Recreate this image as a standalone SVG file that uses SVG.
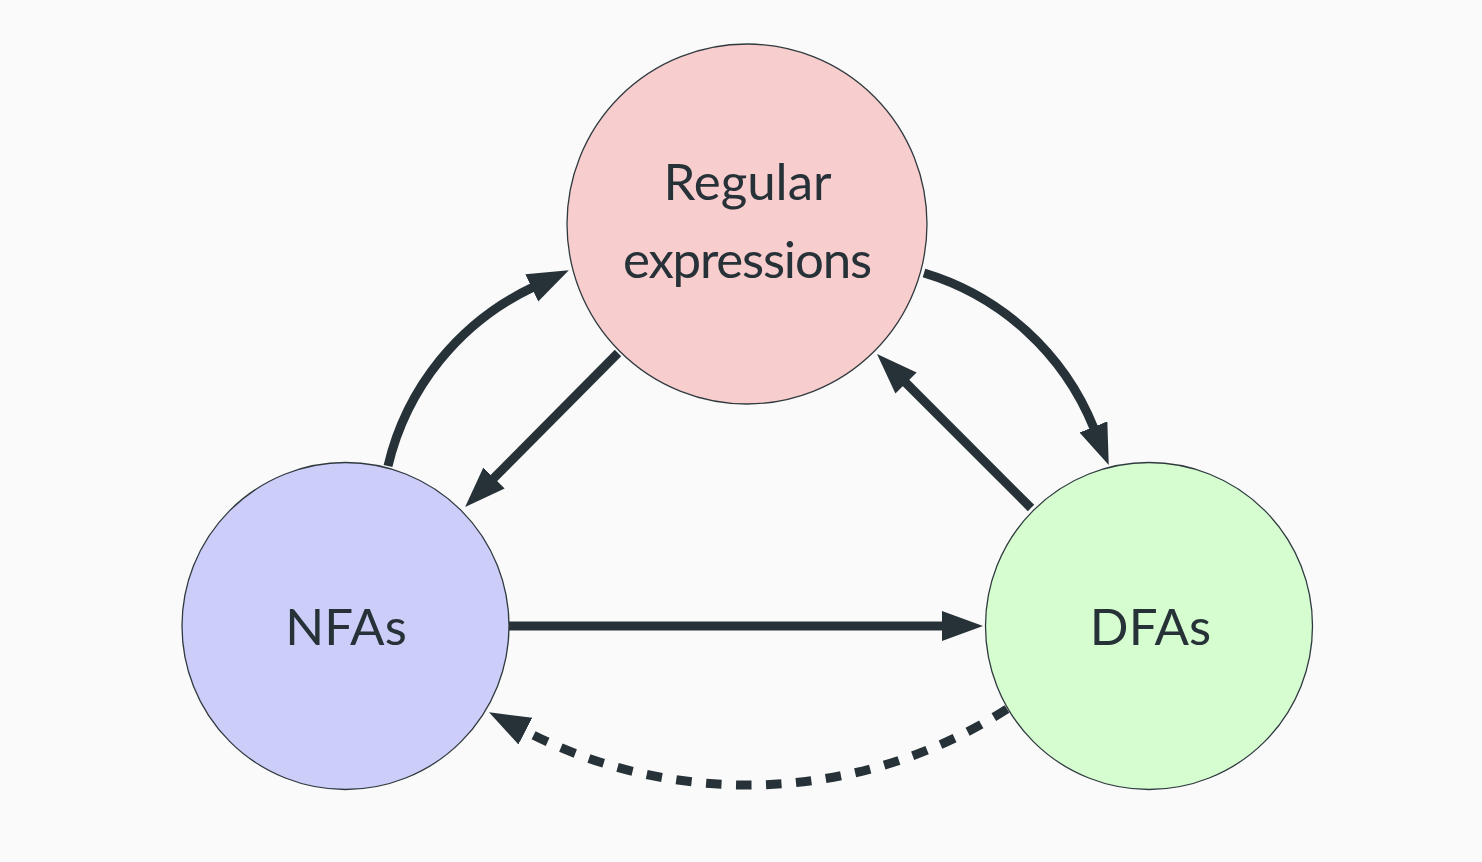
<svg xmlns="http://www.w3.org/2000/svg" width="1482" height="862" viewBox="0 0 1482 862">
  <style>
    .node { stroke: #2f3a3f; stroke-width: 1.3; }
    .label { font-family: Lato, "Open Sans", "Liberation Sans", sans-serif; font-size: 51px; fill: #263238; text-anchor: middle; }
    .edge { fill: none; stroke: #263238; stroke-width: 9; marker-end: url(#arrow); }
    .dashed { stroke-dasharray: 15.5 14.5; }
  </style>
  <defs>
    <marker id="arrow" markerUnits="userSpaceOnUse" markerWidth="44" markerHeight="34" refX="1" refY="15" orient="auto">
      <path d="M0,0 L41,15 L0,30 z" fill="#263238"/>
    </marker>
  </defs>
  <rect x="0" y="0" width="1482" height="862" fill="#fafafa"/>

  <g id="connectors">
    <path class="edge" d="M 388 466 A 265 265 0 0 1 532.7 287.4"/>
    <path class="edge" d="M 924 273 A 265 265 0 0 1 1093.8 427.9"/>
    <path class="edge" d="M 618 353 L 493.3 478.7"/>
    <path class="edge" d="M 1031 508 L 905.3 382.3"/>
    <path class="edge" d="M 509 626 L 943 626"/>
    <path class="edge dashed" d="M 1007 709 A 482.7 482.7 0 0 1 524.5 730.7"/>
  </g>

  <g id="node-regex">
    <circle class="node" cx="747" cy="224" r="180" fill="#f8cdcd"/>
    <text class="label" x="747.5" y="200">Regular</text>
    <text class="label" x="747.5" y="278" textLength="249" lengthAdjust="spacing">expressions</text>
  </g>
  <g id="node-nfa">
    <circle class="node" cx="345.5" cy="626" r="163.5" fill="#cccdf8"/>
    <text class="label" x="346" y="645">NFAs</text>
  </g>
  <g id="node-dfa">
    <circle class="node" cx="1149" cy="626" r="163.5" fill="#d5fdd0"/>
    <text class="label" x="1150.5" y="645">DFAs</text>
  </g>
</svg>
